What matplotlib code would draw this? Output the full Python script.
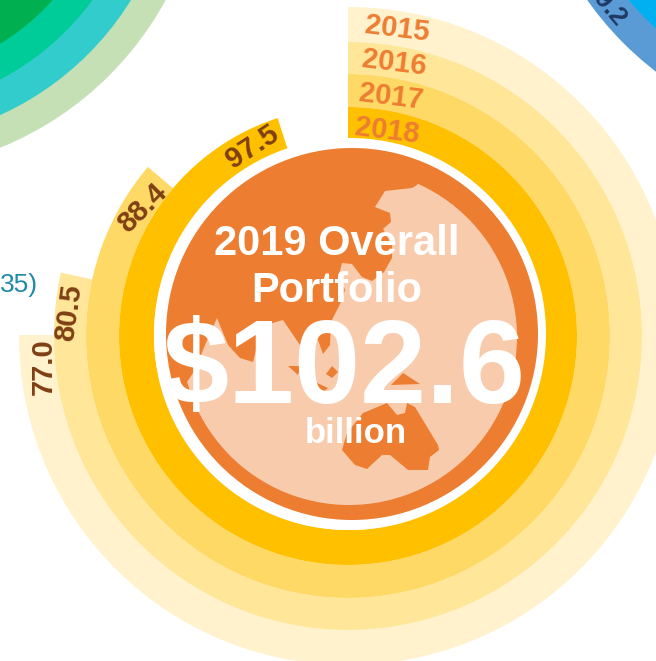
import numpy as np
import matplotlib
matplotlib.use("Agg")
import matplotlib.pyplot as plt
from matplotlib.patches import Wedge, Circle, Polygon

plt.rcParams['font.family'] = ['Liberation Sans', 'DejaVu Sans']

# Data
years = ["2015", "2016", "2017", "2018"]
values = [77.0, 80.5, 88.4, 97.5]
total = 102.6

# Pixel layout of the picture
W, H = 656, 661
cx, cy = 348, 336
edges = [329, 294, 262, 229, 194]
band_colors = ['#FFF2CC', '#FFE699', '#FFD966', '#FFC000']
year_pos = [(397, 29), (394, 63), (391, 97), (387, 131)]
year_rot = [-7, -7, -7, -7]
value_pos = [(44, 367), (69, 313), (143, 208), (252, 147)]
value_rot = [90, 82, 45, 33]

fig = plt.figure(figsize=(W / 100, H / 100), dpi=100)
ax = fig.add_axes([0, 0, 1, 1])
ax.set_xlim(0, W)
ax.set_ylim(H, 0)
ax.axis('off')

# neighbouring charts, cut off by the picture edge
green_radii = [330, 300, 268, 237]
green_colors = ['#C5E0B4', '#33CCCC', '#00CC99', '#00B050']
for r, c in zip(green_radii, green_colors):
    ax.add_patch(Circle((-124, -158), r, color=c, lw=0))
blue_radii = [330, 297]
blue_colors = ['#5B9BD5', '#00B0F0']
for r, c in zip(blue_radii, blue_colors):
    ax.add_patch(Circle((857, -190), r, color=c, lw=0))
ax.text(605, 3, "89.2", rotation=-50, rotation_mode='anchor', ha='center', va='center',
        fontsize=19, fontweight='bold', color='#1F3864')
ax.text(38, 285, "35)", ha='right', va='center', fontsize=19, color='#1E8CA8')

# radial bars, full turn = total, clockwise from the top
for i, v in enumerate(values):
    sweep = v / total * 360
    ax.add_patch(Wedge((cx, cy), edges[i], 270, 270 + sweep,
                       width=edges[i] - edges[i + 1], color=band_colors[i], lw=0))

for i, y in enumerate(years):
    ax.text(year_pos[i][0], year_pos[i][1], y, rotation=year_rot[i], rotation_mode='anchor',
            ha='center', va='center', fontsize=21, fontweight='bold', color='#ED7D31')
    ax.text(value_pos[i][0], value_pos[i][1], f"{values[i]:.1f}", rotation=value_rot[i],
            rotation_mode='anchor', ha='center', va='center', fontsize=21, fontweight='bold',
            color='#7F3F14')

# globe
ax.add_patch(Circle((350, 334), 196, color='white', lw=0))
ax.add_patch(Circle((352, 334), 186, color='#ED7D31', lw=0))
sea = Circle((349, 337), 168, color='#F8CBAD', lw=0)
ax.add_patch(sea)
land_clip = Circle((349, 337), 170, transform=ax.transData)

asia = [(425, 170), (417, 185), (412, 188), (385, 191), (375, 207), (390, 213), (391, 222), (383, 229),
        (392, 245), (392, 258), (384, 272), (372, 281), (362, 277), (352, 264), (342, 263), (339, 275),
        (345, 290), (340, 304), (331, 322), (330, 345), (323, 354), (318, 340), (300, 345), (283, 320),
        (262, 326), (253, 362), (240, 358), (228, 345), (217, 318), (205, 345), (195, 370), (185, 385),
        (150, 400), (150, 150)]
islands = [
    [(288, 366), (301, 366), (298, 375)],
    [(332, 366), (338, 372), (332, 378), (326, 374)],
    [(315, 382), (328, 388), (322, 393)],
    [(403, 373), (420, 384), (391, 385)],
]
australia = [(342, 450), (355, 465), (367, 469), (382, 455), (390, 455), (408, 470), (428, 470), (430, 457),
             (439, 450), (438, 445), (415, 407), (407, 403), (405, 413), (397, 415), (387, 403), (363, 413),
             (347, 433)]
for pts in [asia, australia] + islands:
    land = Polygon(pts, closed=True, color='#ED7D31', lw=0, joinstyle='round')
    ax.add_patch(land)
    land.set_clip_path(land_clip)

# centre text
ax.text(337, 255, "2019 Overall", ha='center', va='baseline', fontsize=30, fontweight='bold', color='white')
ax.text(337, 302, "Portfolio", ha='center', va='baseline', fontsize=30, fontweight='bold', color='white')
ax.text(344, 403, f"${total}", ha='center', va='baseline', fontsize=85.5, fontweight='bold', color='white')
ax.text(356, 443, "billion", ha='center', va='baseline', fontsize=25, fontweight='bold', color='white')

fig.savefig("out.png", dpi=100)
